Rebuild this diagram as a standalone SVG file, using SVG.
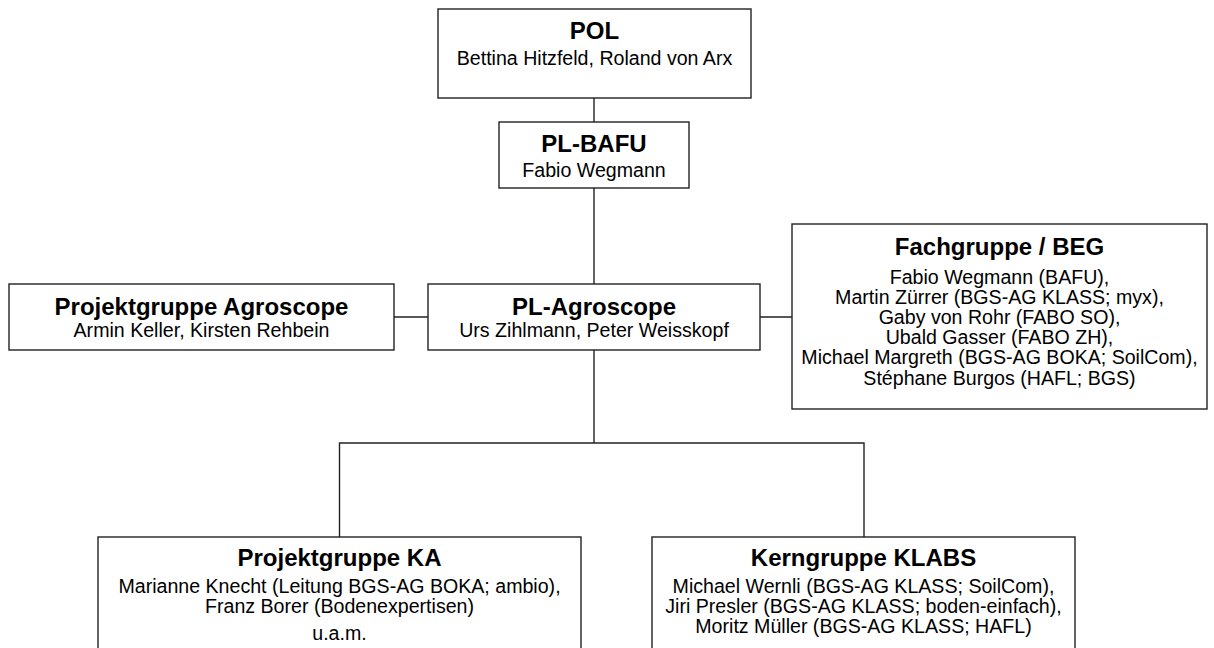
<svg xmlns="http://www.w3.org/2000/svg" width="1214" height="648" viewBox="0 0 1214 648">
<style>
.box{fill:#fff;stroke:#222;stroke-width:1.4}
.con{fill:none;stroke:#222;stroke-width:1.4}
.t{font-family:"Liberation Sans",Arial,sans-serif;font-size:24px;font-weight:bold;fill:#000;text-anchor:middle}
.s{font-family:"Liberation Sans",Arial,sans-serif;font-size:19.6px;fill:#000;text-anchor:middle}
</style>
<rect width="1214" height="648" fill="#fff"/>
<g id="connectors">
<path class="con" d="M594,98 V122 M594,188 V284 M594,350 V443 M339.5,537 V443 H864 V537 M394,317 H428 M760,317 H792"/>
</g>
<g id="pol">
<rect class="box" x="438" y="9" width="313" height="89"/>
<text class="t" x="594.5" y="39">POL</text>
<text class="s" x="594.5" y="65">Bettina Hitzfeld, Roland von Arx</text>
</g>
<g id="pl-bafu">
<rect class="box" x="499" y="122" width="190" height="66"/>
<text class="t" x="594" y="152">PL-BAFU</text>
<text class="s" x="594" y="177">Fabio Wegmann</text>
</g>
<g id="pl-agroscope">
<rect class="box" x="428" y="284" width="332" height="66"/>
<text class="t" x="594" y="315">PL-Agroscope</text>
<text class="s" x="594" y="337">Urs Zihlmann, Peter Weisskopf</text>
</g>
<g id="projektgruppe-agroscope">
<rect class="box" x="9" y="284" width="385" height="66"/>
<text class="t" x="201.5" y="315">Projektgruppe Agroscope</text>
<text class="s" x="201.5" y="337">Armin Keller, Kirsten Rehbein</text>
</g>
<g id="fachgruppe">
<rect class="box" x="792" y="224" width="415" height="185"/>
<text class="t" x="999.5" y="255">Fachgruppe / BEG</text>
<text class="s" x="999.5" y="283.5">Fabio Wegmann (BAFU),</text>
<text class="s" x="999.5" y="303.7">Martin Zürrer (BGS-AG KLASS; myx),</text>
<text class="s" x="999.5" y="323.9">Gaby von Rohr (FABO SO),</text>
<text class="s" x="999.5" y="344.1">Ubald Gasser (FABO ZH),</text>
<text class="s" x="999.5" y="364.3">Michael Margreth (BGS-AG BOKA; SoilCom),</text>
<text class="s" x="999.5" y="384.5">Stéphane Burgos (HAFL; BGS)</text>
</g>
<g id="projektgruppe-ka">
<rect class="box" x="98" y="537" width="483" height="130"/>
<text class="t" x="339.5" y="566">Projektgruppe KA</text>
<text class="s" x="339.5" y="593">Marianne Knecht (Leitung BGS-AG BOKA; ambio),</text>
<text class="s" x="339.5" y="613">Franz Borer (Bodenexpertisen)</text>
<text class="s" x="339.5" y="639.5">u.a.m.</text>
</g>
<g id="kerngruppe">
<rect class="box" x="652" y="537" width="423" height="130"/>
<text class="t" x="863.5" y="566">Kerngruppe KLABS</text>
<text class="s" x="863.5" y="593">Michael Wernli (BGS-AG KLASS; SoilCom),</text>
<text class="s" x="863.5" y="613">Jiri Presler (BGS-AG KLASS; boden-einfach),</text>
<text class="s" x="863.5" y="633">Moritz Müller (BGS-AG KLASS; HAFL)</text>
</g>
</svg>
